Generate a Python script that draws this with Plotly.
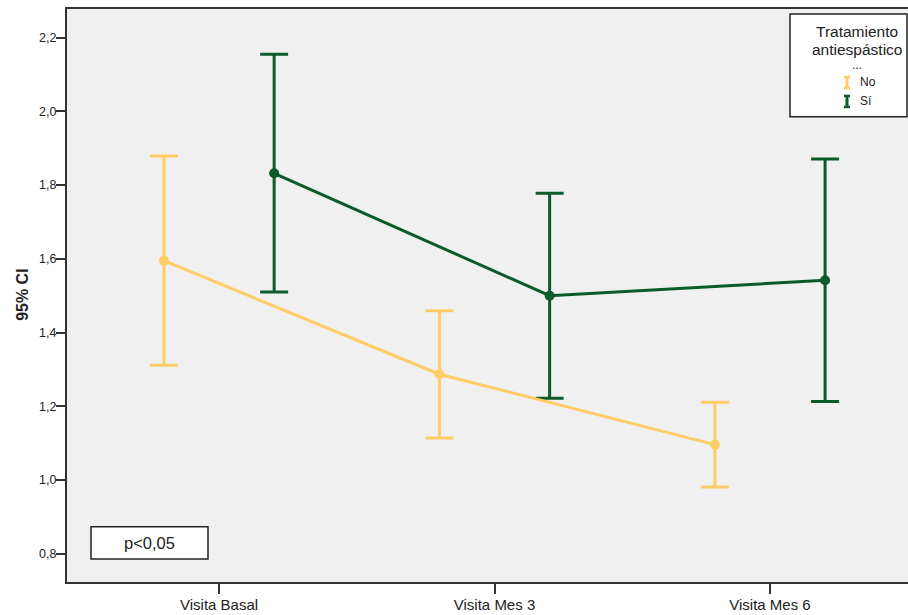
import plotly.graph_objects as go

# Visits and treatment groups
visits = ["Visita Basal", "Visita Mes 3", "Visita Mes 6"]
groups = ["No", "Sí"]
colors = ["#FFCC66", "#0B5A2C"]
legend_title = ["Tratamiento", "antiespástico"]
legend_more = "..."

# Means and 95% CI bounds per group
mean_no = [1.595, 1.287, 1.096]
upper_no = [1.879, 1.459, 1.211]
lower_no = [1.311, 1.114, 0.981]

mean_si = [1.832, 1.500, 1.542]
upper_si = [2.155, 1.778, 1.871]
lower_si = [1.510, 1.222, 1.213]

# Horizontal dodge of each group around the visit position
offsets = [-0.2, 0.2]

series = [
    (mean_no, upper_no, lower_no),
    (mean_si, upper_si, lower_si),
]

FONT = "Liberation Sans, Arial, sans-serif"

# Plot-area geometry in pixels, used to place the boxes
L, T, W, H = 67, 9, 841, 573.3


def px(x):
    return (x - L) / W


def py(y):
    return (T + H - y) / H


fig = go.Figure()

# Draw "Sí" first so the "No" line sits on top where they cross
for idx in [1, 0]:
    m, up, lo = series[idx]
    xs = [i + offsets[idx] for i in range(len(visits))]
    fig.add_trace(go.Scatter(
        x=xs, y=m,
        mode="lines+markers",
        name=groups[idx],
        line=dict(color=colors[idx], width=3),
        marker=dict(color=colors[idx], size=10, symbol="circle"),
        error_y=dict(
            type="data", symmetric=False,
            array=[u - v for u, v in zip(up, m)],
            arrayminus=[v - l for v, l in zip(m, lo)],
            color=colors[idx], thickness=3, width=14,
        ),
        showlegend=False,
        hoverinfo="skip",
    ))

fig.update_layout(
    width=908, height=615,
    margin=dict(l=67, r=0, t=9, b=33),
    paper_bgcolor="white",
    plot_bgcolor="#F0F0F0",
    separators=",.",
    font=dict(family=FONT, color="#222222"),
    xaxis=dict(
        range=[-0.552, 2.501],
        tickmode="array",
        tickvals=list(range(len(visits))),
        ticktext=visits,
        ticks="outside", ticklen=10, tickwidth=1.5, tickcolor="#333333",
        showline=True, linecolor="#333333", linewidth=1.5, mirror=True,
        showgrid=False, zeroline=False,
        ticklabelstandoff=-2,
        tickfont=dict(size=15, family=FONT, color="#222222"),
    ),
    yaxis=dict(
        range=[0.7233, 2.2777],
        tickmode="array",
        tickvals=[0.8, 1.0, 1.2, 1.4, 1.6, 1.8, 2.0, 2.2],
        tickformat=".1f",
        ticks="outside", ticklen=9, tickwidth=2, tickcolor="#333333",
        showline=True, linecolor="#333333", linewidth=2,
        showgrid=False, zeroline=False,
        ticklabelstandoff=-3,
        tickfont=dict(size=12.5, family=FONT, color="#222222"),
    ),
)

# Y-axis title
fig.add_annotation(
    text="<b>95% CI</b>", textangle=-90,
    xref="paper", yref="paper", x=px(23), y=py(295),
    xanchor="center", yanchor="middle", showarrow=False,
    font=dict(size=16, family=FONT, color="#222222"),
)

# Significance box
fig.add_shape(type="rect", xref="paper", yref="paper",
              x0=px(91), x1=px(208), y0=py(559.3), y1=py(527),
              line=dict(color="#222222", width=1.5), fillcolor="white")
fig.add_annotation(
    text="p<0,05", xref="paper", yref="paper",
    x=px(149.5), y=py(543), xanchor="center", yanchor="middle",
    showarrow=False, font=dict(size=16.5, family=FONT, color="#222222"),
)

# Legend box
fig.add_shape(type="rect", xref="paper", yref="paper",
              x0=px(790), x1=px(907), y0=py(116.7), y1=py(14),
              line=dict(color="#222222", width=1.5), fillcolor="white")
for line, ypx in zip(legend_title, [32, 49.5]):
    fig.add_annotation(
        text=line, xref="paper", yref="paper",
        x=px(856.5), y=py(ypx), xanchor="center", yanchor="middle",
        showarrow=False,
        font=dict(size=15.5, family=FONT, color="#222222"),
    )
fig.add_annotation(
    text=legend_more, xref="paper", yref="paper",
    x=px(856.5), y=py(65), xanchor="center", yanchor="middle",
    showarrow=False, height=8,
    font=dict(size=12, family=FONT, color="#222222"),
)

# Legend entries: small I-bar glyph plus group name
legend_y_px = [82.5, 101.5]
icon_x_px = 847
for name, col, ypx in zip(groups, colors, legend_y_px):
    yc = py(ypx)
    half = 5.5 / H
    xc = px(icon_x_px)
    cap = 3 / W
    fig.add_shape(type="line", xref="paper", yref="paper",
                  x0=xc, x1=xc, y0=yc - half, y1=yc + half,
                  line=dict(color=col, width=3))
    for yy in (yc - half, yc + half):
        fig.add_shape(type="line", xref="paper", yref="paper",
                      x0=xc - cap, x1=xc + cap, y0=yy, y1=yy,
                      line=dict(color=col, width=2.5))
    fig.add_annotation(
        text=name, xref="paper", yref="paper",
        x=px(858), y=yc, xanchor="left", yanchor="middle",
        showarrow=False, font=dict(size=12, family=FONT, color="#222222"),
    )

fig.write_html("out.html")
